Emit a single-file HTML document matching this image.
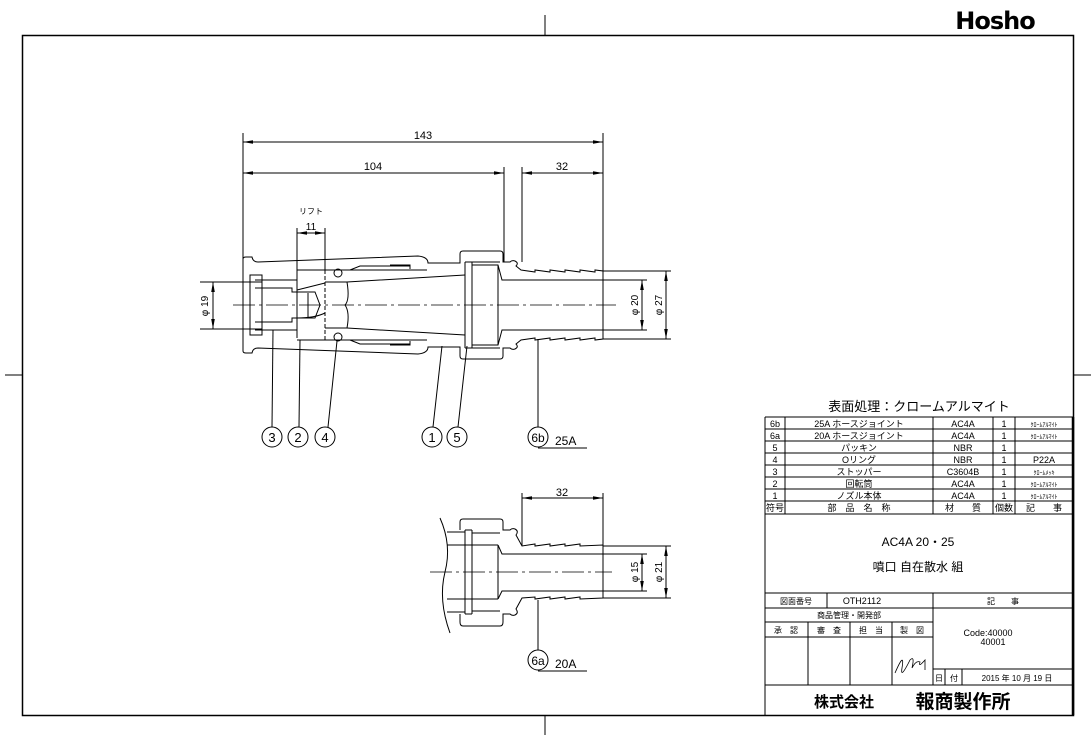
<!DOCTYPE html>
<html><head><meta charset="utf-8"><style>
html,body{margin:0;padding:0;background:#fff;}
svg{display:block;}
text{font-family:"Liberation Sans","Noto Sans CJK JP",sans-serif;fill:#000;}
</style></head><body>
<svg width="1091" height="738" viewBox="0 0 1091 738" xmlns="http://www.w3.org/2000/svg">
<defs>
<marker id="a" viewBox="0 0 10 6" refX="10" refY="3" markerWidth="10" markerHeight="6" orient="auto-start-reverse" markerUnits="userSpaceOnUse"><path d="M0,1.2 L10,3 L0,4.8 z" fill="#000"/></marker>
</defs>
<g fill="none" stroke="#000" stroke-width="1">
<rect x="22.5" y="35.5" width="1051" height="680" stroke-width="1.5"/>
<line x1="545" y1="15" x2="545" y2="35"/><line x1="545" y1="715" x2="545" y2="735"/>
<line x1="5" y1="375" x2="22" y2="375"/><line x1="1073" y1="375" x2="1091" y2="375"/>

<line x1="243" y1="133" x2="243" y2="262"/>
<line x1="603" y1="133" x2="603" y2="272"/>
<line x1="504" y1="167" x2="504" y2="262"/>
<line x1="522" y1="167" x2="522" y2="262"/>
<line x1="243" y1="142" x2="603" y2="142" marker-start="url(#a)" marker-end="url(#a)"/>
<line x1="243" y1="173" x2="504" y2="173" marker-start="url(#a)" marker-end="url(#a)"/>
<line x1="522" y1="173" x2="603" y2="173" marker-start="url(#a)" marker-end="url(#a)"/>
<line x1="297" y1="228" x2="297" y2="338"/>
<line x1="325" y1="228" x2="325" y2="270"/>
<line x1="297" y1="233" x2="325" y2="233" marker-start="url(#a)" marker-end="url(#a)"/>
<line x1="200" y1="282" x2="262" y2="282"/><line x1="200" y1="329" x2="262" y2="329"/>
<line x1="213" y1="282" x2="213" y2="329" marker-start="url(#a)" marker-end="url(#a)"/>
<line x1="603" y1="280" x2="647" y2="280"/><line x1="603" y1="330" x2="647" y2="330"/>
<line x1="603" y1="271" x2="671" y2="271"/><line x1="603" y1="339" x2="671" y2="339"/>
<line x1="642" y1="280" x2="642" y2="330" marker-start="url(#a)" marker-end="url(#a)"/>
<line x1="666" y1="271" x2="666" y2="339" marker-start="url(#a)" marker-end="url(#a)"/>

<line x1="233" y1="305" x2="616" y2="305" stroke-dasharray="22,4,3,4" stroke-width="0.8"/>

<path d="M243,305 V259 Q243,257 246,257 H252 Q253,262 258,262 L418,256 Q428,257 428,263 H460 V254 Q460,251 463,251 H500 Q503,251 503,254 V262 H510 Q512,260 515,261 Q519,263 516,266 L521,270 L535,272 V270 L550,272 V270 L565,272 V270 L580,272 V270 L595,272 V270 L603,271 V305"/>
<path d="M243,305 V351 Q243,353 246,353 H252 Q253,348 258,348 L418,354 Q428,353 428,347 H460 V356 Q460,359 463,359 H500 Q503,359 503,356 V348 H510 Q512,350 515,349 Q519,347 516,344 L521,340 L535,338 V340 L550,338 V340 L565,338 V340 L580,338 V340 L595,338 V340 L603,339 V305"/>
<path d="M250,275 H262 V335 H250 Z"/>
<path d="M255,280 h8 M255,288 h8 M255,322 h8 M255,330 h8"/>
<path d="M262,280 H297 M262,330 H297"/>
<path d="M262,288 H292 V292 H315 L320,305 L315,318 H292 V322 H262"/>
<path d="M308,293 V317"/>
<line x1="325" y1="270" x2="325" y2="340" stroke-dasharray="4,2"/>
<path d="M297,290 L325,283 M297,318 Q315,318 325,313"/>
<path d="M297,270 H427 M297,340 H427"/>
<path d="M325,282 L347,282 L465,275 M325,328 L347,328 L465,335"/>
<path d="M347,282 Q350,300 345,305 Q350,312 347,328"/>
<circle cx="338" cy="273" r="4"/><circle cx="338" cy="337" r="4"/>
<path d="M350,270 L360,266 H410 M350,340 L360,344 H410 M390,265 h20 v4 M390,345 h20 v-4"/>
<path d="M465,262 V348 M472,262 V348 M465,262 H472 M465,348 H472"/>
<path d="M472,265 H498 L502,280 H603 M472,345 H498 L502,330 H603"/>
<path d="M498,265 V345"/>
<path d="M472,262 H500 M472,348 H500"/>

<line x1="272" y1="427" x2="273" y2="330"/>
<line x1="299" y1="427" x2="300" y2="340"/>
<line x1="328" y1="427" x2="337" y2="341"/>
<line x1="433" y1="427" x2="442" y2="346"/>
<line x1="458" y1="427" x2="467" y2="346"/>
<line x1="538" y1="427" x2="538" y2="339"/>
<circle cx="272" cy="437" r="10"/><circle cx="298" cy="437" r="10"/><circle cx="325" cy="437" r="10"/>
<circle cx="432" cy="437" r="10"/><circle cx="457" cy="437" r="10"/><circle cx="538" cy="437" r="10"/>
<line x1="538" y1="448" x2="587" y2="448"/>

<line x1="522" y1="493" x2="522" y2="546"/><line x1="603" y1="493" x2="603" y2="546"/>
<line x1="522" y1="498" x2="603" y2="498" marker-start="url(#a)" marker-end="url(#a)"/>
<line x1="430" y1="572" x2="612" y2="572" stroke-dasharray="22,4,3,4" stroke-width="0.8"/>
<path d="M603,554 H647 M603,591 H647 M603,546 H671 M603,598 H671"/>
<line x1="642" y1="554" x2="642" y2="591" marker-start="url(#a)" marker-end="url(#a)"/>
<line x1="666" y1="546" x2="666" y2="598" marker-start="url(#a)" marker-end="url(#a)"/>
<path d="M440,518 Q452,545 445,572 Q438,600 450,633"/>
<path d="M447,532 H465 M447,612 H465 M447,545 H498 M447,599 H498"/>
<path d="M460,530 V522 Q460,519 463,519 H500 Q503,519 503,522 V530 H510 Q512,528 515,529 Q519,531 516,535 L522,546 L535,544 V546 L550,544 V546 L565,544 V546 L580,544 V546 L603,545 V598 L580,599 V597 L565,599 V597 L550,599 V597 L535,599 V597 L522,598 L516,609 Q519,613 515,615 Q512,616 510,614 H503 V622 Q503,626 500,626 H463 Q460,626 460,622 V614"/>
<path d="M465,530 V614 M472,530 V614 M465,530 H472 M465,614 H472 M472,533 H500 M472,611 H500"/>
<path d="M498,545 L502,554 H603 M498,599 L502,591 H603 M498,545 V599"/>
<line x1="538" y1="600" x2="538" y2="650"/>
<circle cx="538" cy="660" r="10"/>
<line x1="538" y1="671" x2="587" y2="671"/>

<path d="M765,417 H1073 M765,715 V417"/>
<line x1="1073" y1="417" x2="1073" y2="715" stroke-width="2.5"/>
<path d="M765,429 H1073 M765,441 H1073 M765,453 H1073 M765,465 H1073 M765,477 H1073 M765,489 H1073 M765,501 H1073 M765,514 H1073"/>
<path d="M785,417 V514 M933,417 V514 M993,417 V514 M1015,417 V514"/>
<path d="M765,593 H1073 M765,608 H1073 M765,622 H933 M765,637 H933 M765,685 H1073"/>
<path d="M827,593 V608 M933,593 V685 M808,622 V685 M850,622 V685 M892,622 V685"/>
<path d="M933,669 H1073 M945,669 V685 M962,669 V685"/>
<path d="M895,673 Q905,650 902,668 Q900,680 910,660 Q915,655 912,668 Q916,660 920,662 Q918,668 925,660 L925,670" stroke-width="0.8"/>
</g>

<g font-size="11">
<text x="423" y="139" text-anchor="middle">143</text>
<text x="373" y="170" text-anchor="middle">104</text>
<text x="562" y="170" text-anchor="middle">32</text>
<text x="311" y="214" text-anchor="middle" font-size="8">リフト</text>
<text x="311" y="230" text-anchor="middle" font-size="10">11</text>
<text transform="translate(208,306) rotate(-90)" text-anchor="middle" font-size="10">φ 19</text>
<text transform="translate(638,305) rotate(-90)" text-anchor="middle" font-size="10">φ 20</text>
<text transform="translate(662,305) rotate(-90)" text-anchor="middle" font-size="10">φ 27</text>
<text transform="translate(638,572) rotate(-90)" text-anchor="middle" font-size="10">φ 15</text>
<text transform="translate(662,572) rotate(-90)" text-anchor="middle" font-size="10">φ 21</text>
<text x="562" y="496" text-anchor="middle">32</text>
<g font-size="13" text-anchor="middle">
<text x="272" y="442">3</text><text x="298" y="442">2</text><text x="325" y="442">4</text>
<text x="432" y="442">1</text><text x="457" y="442">5</text><text x="538" y="442" font-size="12">6b</text>
<text x="538" y="665" font-size="12">6a</text>
</g>
<text x="555" y="445" font-size="12">25A</text>
<text x="555" y="668" font-size="12">20A</text>
</g>

<g font-size="9" text-anchor="middle">
<text x="919" y="411" font-size="13">表面処理：クロームアルマイト</text>
<text x="775" y="427">6b</text><text x="859" y="427">25A ホースジョイント</text><text x="963" y="427">AC4A</text><text x="1004" y="427">1</text><text x="1044" y="427" font-size="6">ｸﾛｰﾑｱﾙﾏｲﾄ</text>
<text x="775" y="439">6a</text><text x="859" y="439">20A ホースジョイント</text><text x="963" y="439">AC4A</text><text x="1004" y="439">1</text><text x="1044" y="439" font-size="6">ｸﾛｰﾑｱﾙﾏｲﾄ</text>
<text x="775" y="451">5</text><text x="859" y="451">パッキン</text><text x="963" y="451">NBR</text><text x="1004" y="451">1</text>
<text x="775" y="463">4</text><text x="859" y="463">Oリング</text><text x="963" y="463">NBR</text><text x="1004" y="463">1</text><text x="1044" y="463">P22A</text>
<text x="775" y="475">3</text><text x="859" y="475">ストッパー</text><text x="963" y="475">C3604B</text><text x="1004" y="475">1</text><text x="1044" y="475" font-size="6">ｸﾛｰﾑﾒｯｷ</text>
<text x="775" y="487">2</text><text x="859" y="487">回転筒</text><text x="963" y="487">AC4A</text><text x="1004" y="487">1</text><text x="1044" y="487" font-size="6">ｸﾛｰﾑｱﾙﾏｲﾄ</text>
<text x="775" y="499">1</text><text x="859" y="499">ノズル本体</text><text x="963" y="499">AC4A</text><text x="1004" y="499">1</text><text x="1044" y="499" font-size="6">ｸﾛｰﾑｱﾙﾏｲﾄ</text>
<text x="775" y="511">符号</text><text x="859" y="511">部　品　名　称</text><text x="963" y="511">材　　質</text><text x="1004" y="511">個数</text><text x="1044" y="511">記　　事</text>
<text x="918" y="546" font-size="12">AC4A 20・25</text>
<text x="918" y="571" font-size="12">噴口 自在散水 組</text>
<text x="796" y="604" font-size="8">図面番号</text><text x="862" y="604">OTH2112</text>
<text x="1003" y="604" font-size="8">記　　事</text>
<text x="849" y="618" font-size="8">商品管理・開発部</text>
<text x="786" y="633" font-size="8">承　認</text><text x="829" y="633" font-size="8">審　査</text><text x="871" y="633" font-size="8">担　当</text><text x="912" y="633" font-size="8">製　図</text>
<text x="988" y="636">Code:40000</text><text x="993" y="645">40001</text>
<text x="939" y="681" font-size="8">日</text><text x="954" y="681" font-size="8">付</text>
<text x="1017" y="681" font-size="8">2015 年 10 月 19 日</text>
<text x="844" y="707" font-size="15" font-weight="bold">株式会社</text>
<text x="963" y="708" font-size="19" font-weight="bold">報商製作所</text>
</g>
<text x="995" y="29" font-size="24" font-weight="bold" text-anchor="middle" fill="#333" style="font-family:'DejaVu Sans',sans-serif;letter-spacing:-1px">Hosho</text>
</svg>
</body></html>
